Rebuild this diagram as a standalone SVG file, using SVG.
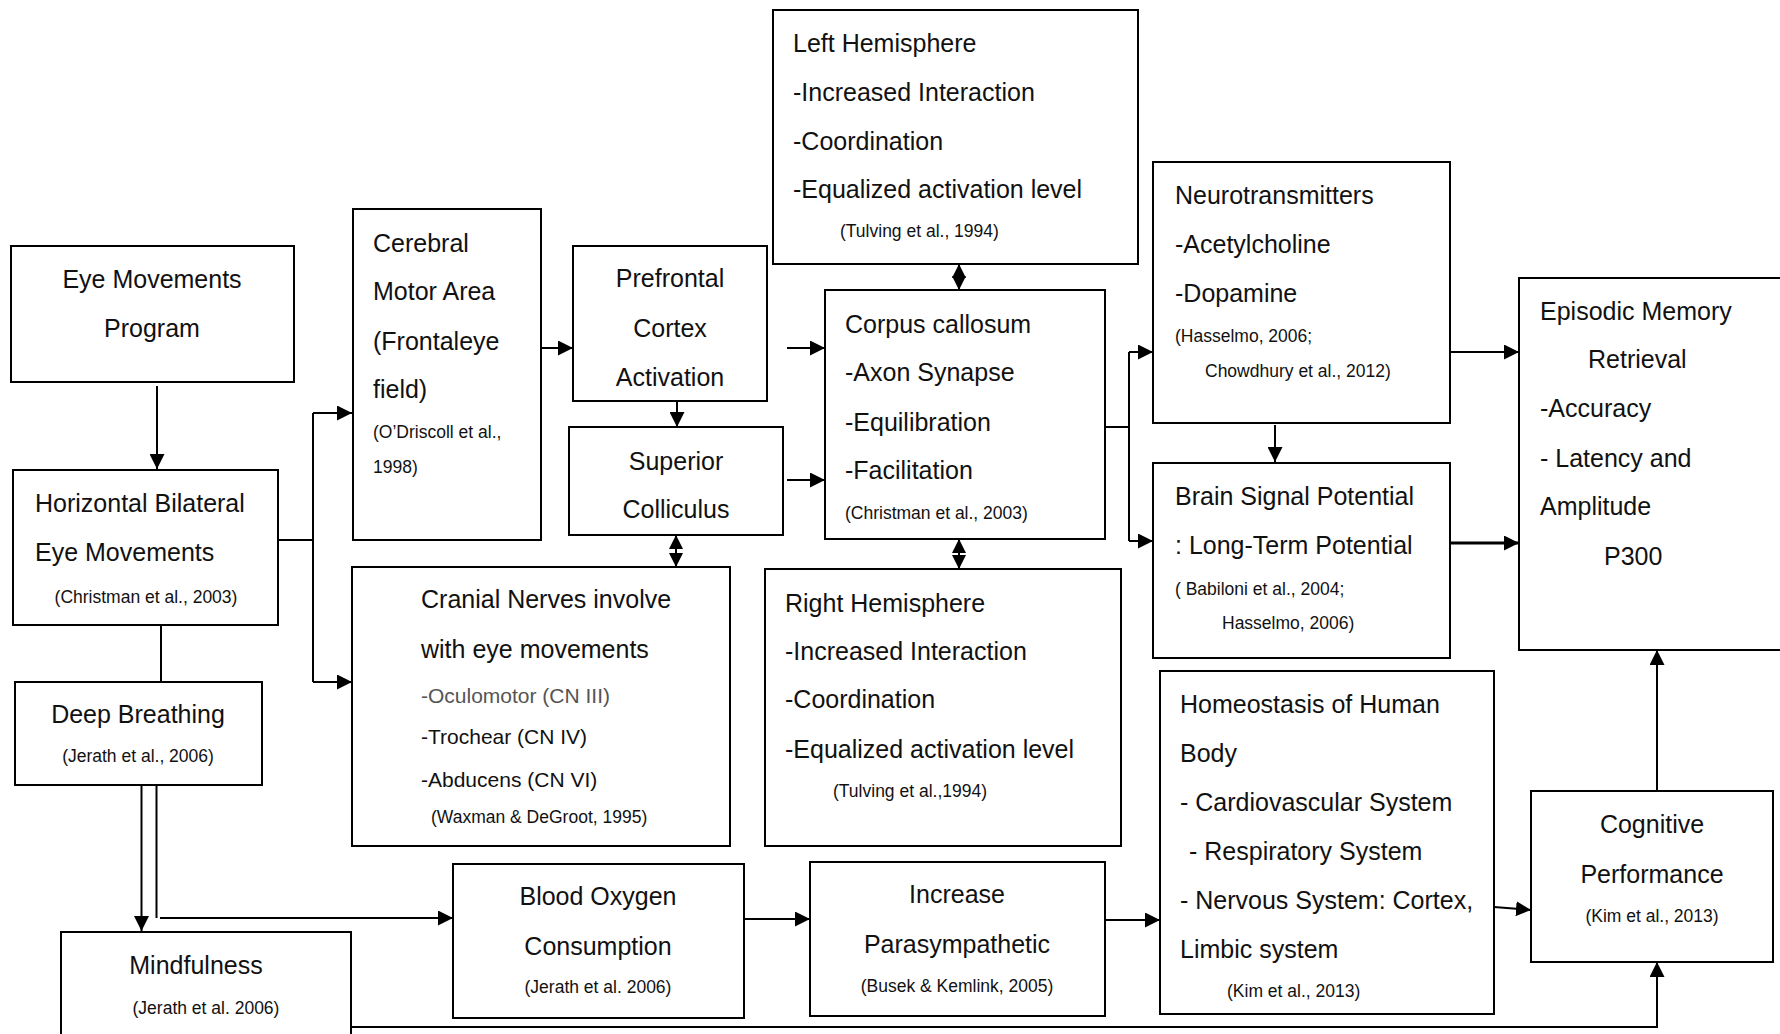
<svg xmlns="http://www.w3.org/2000/svg" width="1780" height="1034" viewBox="0 0 1780 1034">
<style>
  .box { fill: #ffffff; stroke: #000; stroke-width: 2; }
  .t { font-family: "Liberation Sans", Arial, sans-serif; font-size: 25px; fill: #111; }
  .s { font-family: "Liberation Sans", Arial, sans-serif; font-size: 17.5px; fill: #111; }
  .m { font-family: "Liberation Sans", Arial, sans-serif; font-size: 21px; fill: #111; }
  .c { text-anchor: middle; }
  .ln { fill: none; stroke: #000; stroke-width: 2; }
  .arr { marker-end: url(#ah); }
  .dbl { marker-start: url(#dh2); marker-end: url(#dh); }
</style>
<defs>
  <marker id="ah" viewBox="0 0 15 15" refX="15" refY="7.5" markerWidth="15" markerHeight="15" markerUnits="userSpaceOnUse" orient="auto">
    <path d="M0,0 L15,7.5 L0,15 z" fill="#000"/>
  </marker>
  <marker id="dh" viewBox="0 0 14 14" refX="14" refY="7" markerWidth="14" markerHeight="14" markerUnits="userSpaceOnUse" orient="auto">
    <path d="M0,0 L14,7 L0,14 z" fill="#000"/>
  </marker>
  <marker id="dh2" viewBox="0 0 14 14" refX="14" refY="7" markerWidth="14" markerHeight="14" markerUnits="userSpaceOnUse" orient="auto-start-reverse">
    <path d="M0,0 L14,7 L0,14 z" fill="#000"/>
  </marker>
</defs>
<rect width="1780" height="1034" fill="#ffffff"/>

<g id="connectors">
  <path class="ln arr" d="M157,386 V469"/>
  <path class="ln" d="M278,540 H313"/>
  <path class="ln" d="M313,413 V682"/>
  <path class="ln arr" d="M313,413 H352"/>
  <path class="ln arr" d="M313,682 H352"/>
  <path class="ln arr" d="M541,348 H573"/>
  <path class="ln arr" d="M677,401 V427"/>
  <path class="ln arr" d="M787,348 H825"/>
  <path class="ln arr" d="M787,480 H825"/>
  <path class="ln dbl" d="M959,264 V290"/>
  <path class="ln dbl" d="M959,539 V569"/>
  <path class="ln dbl" d="M676,535 V567"/>
  <path class="ln" d="M1105,427 H1129"/>
  <path class="ln" d="M1129,352 V541"/>
  <path class="ln arr" d="M1129,352 H1153"/>
  <path class="ln arr" d="M1129,541 H1153"/>
  <path class="ln arr" d="M1450,352 H1519"/>
  <path class="ln arr" d="M1275,425 V462"/>
  <path class="ln arr" style="stroke-width:3" d="M1450,543 H1519"/>
  <path class="ln arr" d="M1657,791 V650"/>
  <path class="ln" d="M161,625 V682"/>
  <path class="ln arr" d="M141.5,785 V931"/>
  <path class="ln" d="M156.5,785 V918"/>
  <path class="ln arr" d="M160,918 H453"/>
  <path class="ln arr" d="M744,919 H810"/>
  <path class="ln arr" d="M1105,920 H1160"/>
  <path class="ln arr" d="M1494,907 L1531,910"/>
  <path class="ln arr" d="M351,1027 H1657 V962"/>
</g>

<g id="eye-movements-program">
  <rect class="box" x="11" y="246" width="283" height="136"/>
  <text class="t c" x="152" y="288">Eye Movements</text>
  <text class="t c" x="152" y="337">Program</text>
</g>

<g id="horizontal-bilateral">
  <rect class="box" x="13" y="470" width="265" height="155"/>
  <text class="t" x="35" y="512">Horizontal Bilateral</text>
  <text class="t" x="35" y="561">Eye Movements</text>
  <text class="s c" x="146" y="603">(Christman et al., 2003)</text>
</g>

<g id="deep-breathing">
  <rect class="box" x="15" y="682" width="247" height="103"/>
  <text class="t c" x="138" y="723">Deep Breathing</text>
  <text class="s c" x="138" y="762">(Jerath et al., 2006)</text>
</g>

<g id="mindfulness">
  <rect class="box" x="61" y="932" width="290" height="110"/>
  <text class="t c" x="196" y="974">Mindfulness</text>
  <text class="s c" x="206" y="1014">(Jerath et al. 2006)</text>
</g>

<g id="cerebral-motor-area">
  <rect class="box" x="353" y="209" width="188" height="331"/>
  <text class="t" x="373" y="252">Cerebral</text>
  <text class="t" x="373" y="300">Motor Area</text>
  <text class="t" x="373" y="350">(Frontaleye</text>
  <text class="t" x="373" y="398">field)</text>
  <text class="s" x="373" y="438">(O’Driscoll et al.,</text>
  <text class="s" x="373" y="473">1998)</text>
</g>

<g id="prefrontal-cortex">
  <rect class="box" x="573" y="246" width="194" height="155"/>
  <text class="t c" x="670" y="287">Prefrontal</text>
  <text class="t c" x="670" y="337">Cortex</text>
  <text class="t c" x="670" y="386">Activation</text>
</g>

<g id="superior-colliculus">
  <rect class="box" x="569" y="427" width="214" height="108"/>
  <text class="t c" x="676" y="470">Superior</text>
  <text class="t c" x="676" y="518">Colliculus</text>
</g>

<g id="cranial-nerves">
  <rect class="box" x="352" y="567" width="378" height="279"/>
  <text class="t" x="421" y="608">Cranial Nerves involve</text>
  <text class="t" x="421" y="658">with eye movements</text>
  <text class="m" x="421" y="703" style="fill:#555">-Oculomotor (CN III)</text>
  <text class="m" x="421" y="744">-Trochear (CN IV)</text>
  <text class="m" x="421" y="787">-Abducens (CN VI)</text>
  <text class="s" x="431" y="823">(Waxman &amp; DeGroot, 1995)</text>
</g>

<g id="left-hemisphere">
  <rect class="box" x="773" y="10" width="365" height="254"/>
  <text class="t" x="793" y="52">Left Hemisphere</text>
  <text class="t" x="793" y="101">-Increased Interaction</text>
  <text class="t" x="793" y="150">-Coordination</text>
  <text class="t" x="793" y="198">-Equalized activation level</text>
  <text class="s" x="840" y="237">(Tulving et al., 1994)</text>
</g>

<g id="corpus-callosum">
  <rect class="box" x="825" y="290" width="280" height="249"/>
  <text class="t" x="845" y="333">Corpus callosum</text>
  <text class="t" x="845" y="381">-Axon Synapse</text>
  <text class="t" x="845" y="431">-Equilibration</text>
  <text class="t" x="845" y="479">-Facilitation</text>
  <text class="s" x="845" y="519">(Christman et al., 2003)</text>
</g>

<g id="right-hemisphere">
  <rect class="box" x="765" y="569" width="356" height="277"/>
  <text class="t" x="785" y="612">Right Hemisphere</text>
  <text class="t" x="785" y="660">-Increased Interaction</text>
  <text class="t" x="785" y="708">-Coordination</text>
  <text class="t" x="785" y="758">-Equalized activation level</text>
  <text class="s" x="833" y="797">(Tulving et al.,1994)</text>
</g>

<g id="neurotransmitters">
  <rect class="box" x="1153" y="162" width="297" height="261"/>
  <text class="t" x="1175" y="204">Neurotransmitters</text>
  <text class="t" x="1175" y="253">-Acetylcholine</text>
  <text class="t" x="1175" y="302">-Dopamine</text>
  <text class="s" x="1175" y="342">(Hasselmo, 2006;</text>
  <text class="s" x="1205" y="377">Chowdhury et al., 2012)</text>
</g>

<g id="brain-signal-potential">
  <rect class="box" x="1153" y="463" width="297" height="195"/>
  <text class="t" x="1175" y="505">Brain Signal Potential</text>
  <text class="t" x="1175" y="554">: Long-Term Potential</text>
  <text class="s" x="1175" y="595">( Babiloni et al., 2004;</text>
  <text class="s" x="1222" y="629">Hasselmo, 2006)</text>
</g>

<g id="episodic-memory">
  <rect class="box" x="1519" y="278" width="270" height="372"/>
  <text class="t" x="1540" y="320">Episodic Memory</text>
  <text class="t" x="1588" y="368">Retrieval</text>
  <text class="t" x="1540" y="417">-Accuracy</text>
  <text class="t" x="1540" y="467">- Latency and</text>
  <text class="t" x="1540" y="515">Amplitude</text>
  <text class="t" x="1604" y="565">P300</text>
</g>

<g id="blood-oxygen">
  <rect class="box" x="453" y="864" width="291" height="154"/>
  <text class="t c" x="598" y="905">Blood Oxygen</text>
  <text class="t c" x="598" y="955">Consumption</text>
  <text class="s c" x="598" y="993">(Jerath et al. 2006)</text>
</g>

<g id="increase-parasympathetic">
  <rect class="box" x="810" y="862" width="295" height="154"/>
  <text class="t c" x="957" y="903">Increase</text>
  <text class="t c" x="957" y="953">Parasympathetic</text>
  <text class="s c" x="957" y="992">(Busek &amp; Kemlink, 2005)</text>
</g>

<g id="homeostasis">
  <rect class="box" x="1160" y="671" width="334" height="343"/>
  <text class="t" x="1180" y="713">Homeostasis of Human</text>
  <text class="t" x="1180" y="762">Body</text>
  <text class="t" x="1180" y="811">- Cardiovascular System</text>
  <text class="t" x="1189" y="860">- Respiratory System</text>
  <text class="t" x="1180" y="909">- Nervous System: Cortex,</text>
  <text class="t" x="1180" y="958">Limbic system</text>
  <text class="s" x="1227" y="997">(Kim et al., 2013)</text>
</g>

<g id="cognitive-performance">
  <rect class="box" x="1531" y="791" width="242" height="171"/>
  <text class="t c" x="1652" y="833">Cognitive</text>
  <text class="t c" x="1652" y="883">Performance</text>
  <text class="s c" x="1652" y="922">(Kim et al., 2013)</text>
</g>
</svg>
